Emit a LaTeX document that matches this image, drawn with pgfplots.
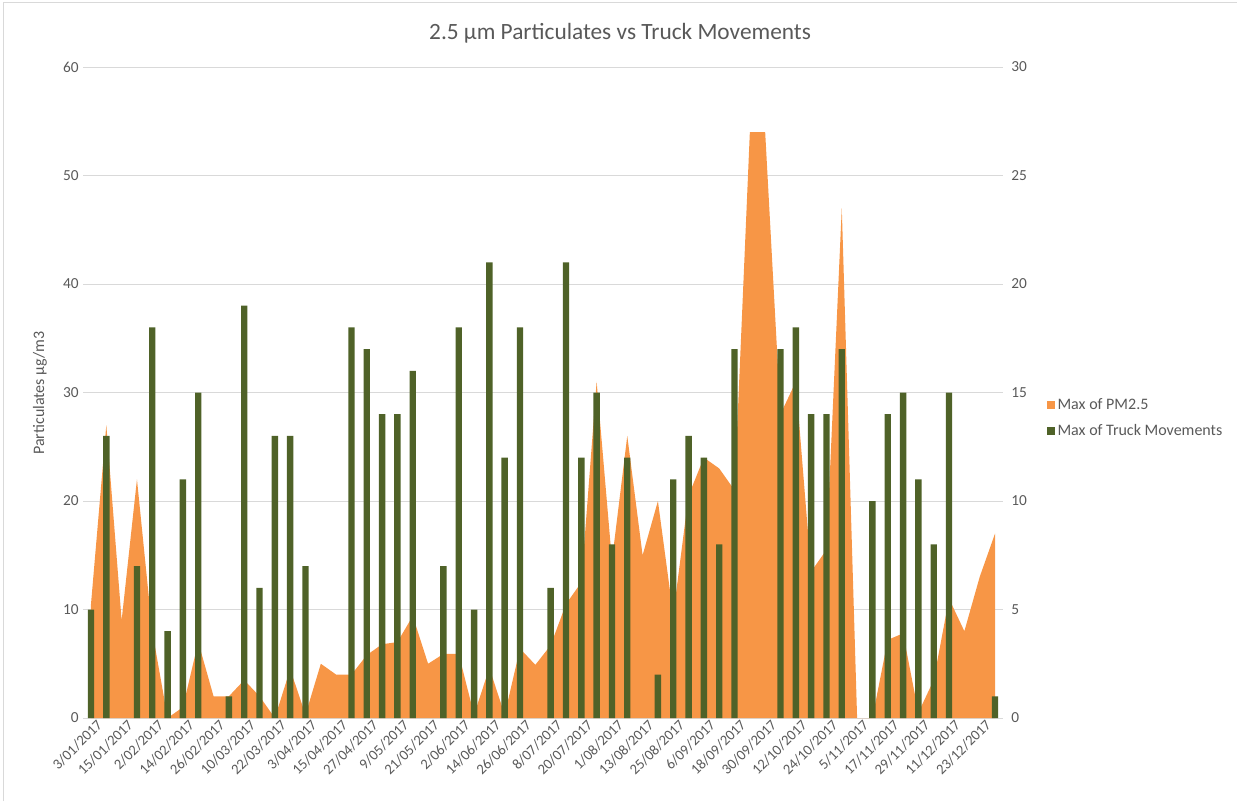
\documentclass[border=0pt]{standalone}
\usepackage{fontspec}
\setmainfont{Carlito}
\usepackage{pgfplots}
\usepackage{pgfplotstable}
\pgfplotsset{compat=1.18}

\definecolor{pmorange}{HTML}{F79646}
\definecolor{truckgreen}{HTML}{4F6228}
\definecolor{txtgray}{HTML}{595959}
\definecolor{gridgray}{HTML}{D9D9D9}

% max PM2.5 per sampling date (index 0..59)
\pgfplotstableread{
i pm
0 10.5
1 27
2 9
3 22
4 8
5 0
6 1
7 7
8 2
9 2
10 3.5
11 2
12 0
13 4.5
14 0.3
15 5
16 4
17 4
18 5.8
19 6.8
20 7
21 9.4
22 5
23 5.9
24 5.9
25 0.3
26 4.6
27 0.3
28 6.4
29 4.9
30 6.7
31 10.5
32 12.5
33 31
34 14.5
35 26
36 15
37 20
38 9.5
39 20.5
40 24
41 23
42 21
43 54
44 54
45 28
46 31
47 13.5
48 15.5
49 47
50 0
51 0
52 7.2
53 7.8
54 0.5
55 3.5
56 11
57 8
58 13
59 17
}\pmdata

% max truck movements (dates with none are left out)
\pgfplotstableread{
i trucks
0 5
1 13
3 7
4 18
5 4
6 11
7 15
9 1
10 19
11 6
12 13
13 13
14 7
17 18
18 17
19 14
20 14
21 16
23 7
24 18
25 5
26 21
27 12
28 18
30 6
31 21
32 12
33 15
34 8
35 12
37 2
38 11
39 13
40 12
41 8
42 17
45 17
46 18
47 14
48 14
49 17
51 10
52 14
53 15
54 11
55 8
56 15
59 1
}\truckdata

\pgfplotsset{
  chartbase/.style={
    at={(62.5pt,62.25pt)}, anchor=south west,
    scale only axis, width=689.5pt, height=488.25pt,
    xmin=-0.5, xmax=59.5,
    axis line style={draw=none},
    major tick length=0pt,
    tick label style={font=\fontsize{11.5}{13}\selectfont, text=txtgray},
    /pgf/number format/assume math mode=true,
  },
}

\begin{document}
\begin{tikzpicture}
\path[use as bounding box] (0pt,0pt) rectangle (927.75pt,600.75pt);
\draw[gridgray, line width=0.75pt] (2.25pt,0pt) -- (2.25pt,598.5pt) -- (927.75pt,598.5pt);

\begin{axis}[
  chartbase,
  ymin=0, ymax=60,
  ytick={0,10,...,60},
  xtick={0,2,...,58},
  xticklabels={3/01/2017,15/01/2017,2/02/2017,14/02/2017,26/02/2017,10/03/2017,22/03/2017,3/04/2017,15/04/2017,27/04/2017,9/05/2017,21/05/2017,2/06/2017,14/06/2017,26/06/2017,8/07/2017,20/07/2017,1/08/2017,13/08/2017,25/08/2017,6/09/2017,18/09/2017,30/09/2017,12/10/2017,24/10/2017,5/11/2017,17/11/2017,29/11/2017,11/12/2017,23/12/2017},
  xticklabel style={font=\fontsize{11}{12}\selectfont, rotate=45, anchor=east,
    inner sep=0.5pt, yshift=-7pt, xshift=3pt},
  ymajorgrids,
  grid style={gridgray, line width=0.75pt},
]
\addplot[fill=pmorange, draw=none] table[x=i, y=pm] {\pmdata} \closedcycle;
\end{axis}

\begin{axis}[
  chartbase,
  ymin=0, ymax=30,
  ytick={0,5,...,30},
  hide x axis,
  axis y line*=right,
  yticklabel style={xshift=3pt},
  legend style={at={(1.044,0.50)}, anchor=north west, draw=none, fill=none,
    font=\fontsize{12}{14}\selectfont, text=txtgray, row sep=6pt},
  legend cell align=left,
]
\addlegendimage{legend image code/.code={\fill[pmorange] (0pt,-2.6pt) rectangle (5.2pt,2.6pt);}}
\addlegendimage{legend image code/.code={\fill[truckgreen] (0pt,-2.6pt) rectangle (5.2pt,2.6pt);}}
\addplot[ybar, bar width=4.8pt, fill=truckgreen, draw=none, forget plot]
  table[x=i, y=trucks] {\truckdata};
\legend{Max of PM2.5, Max of Truck Movements}
\end{axis}

\node[text=txtgray, font=\fontsize{17.5}{20}\selectfont] at (465pt,576pt)
  {2.5 µm Particulates vs Truck Movements};
\node[rotate=90, text=txtgray, font=\fontsize{12}{14}\selectfont] at (30pt,306pt)
  {Particulates µg/m3};
\end{tikzpicture}
\end{document}
